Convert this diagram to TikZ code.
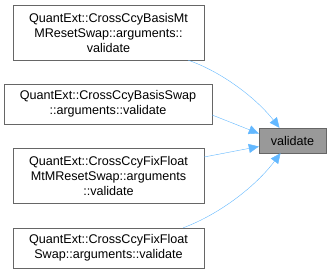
\documentclass[tikz,border=0pt]{standalone}
\usepackage{fontspec}
\setmainfont{Liberation Sans}
\usepackage{xcolor}
\usepackage{tikz}
\usetikzlibrary{arrows.meta}
\definecolor{edgeblue}{HTML}{63B8FF}
\definecolor{boxline}{HTML}{666666}
\definecolor{boxfill}{HTML}{999999}
\tikzset{
  caller/.style={draw=boxline,fill=white,align=center,inner sep=0pt,
    font=\fontsize{12.6}{15}\selectfont},
  callee/.style={caller,fill=boxfill},
  call/.style={draw=edgeblue,-{Triangle[length=10pt,width=9pt]}},
}
% one caller box: name, centre x, centre y, width, height, text
\newcommand{\cbox}[6]{%
  \node[caller,minimum width=#4pt,minimum height=#5pt,text width=#4pt] (#1) at (#2,#3) {#6};}

\begin{document}
\begin{tikzpicture}[x=1pt,y=1pt]
  \useasboundingbox (0,0) rectangle (331,-274);
  \cbox{bmtm}{108.5}{-32.5}{191}{55}{QuantExt::CrossCcyBasisMt\\MResetSwap::arguments::\\validate}
  \cbox{basis}{108}{-104}{208}{40}{QuantExt::CrossCcyBasisSwap\\::arguments::validate}
  \cbox{fmtm}{108.5}{-175.5}{191}{55}{QuantExt::CrossCcyFixFloat\\MtMResetSwap::arguments\\::validate}
  \cbox{ffs}{108.5}{-248}{191}{40}{QuantExt::CrossCcyFixFloat\\Swap::arguments::validate}
  \node[callee,minimum width=67pt,minimum height=25pt] (val) at (292.5,-140.5) {validate};
  % calls into validate
  \draw[call] ([xshift=-16pt]bmtm.south east) .. controls (222,-72) and (256,-98) .. ([xshift=-13pt]val.north);
  \draw[call] ([yshift=-11pt]basis.east) -- ([yshift=7pt]val.west);
  \draw[call] ([yshift=18.5pt]fmtm.east) -- ([yshift=-6pt]val.west);
  \draw[call] ([xshift=-21pt]ffs.north east) .. controls (220,-214) and (256,-186) .. ([xshift=-12pt]val.south);
\end{tikzpicture}
\end{document}
